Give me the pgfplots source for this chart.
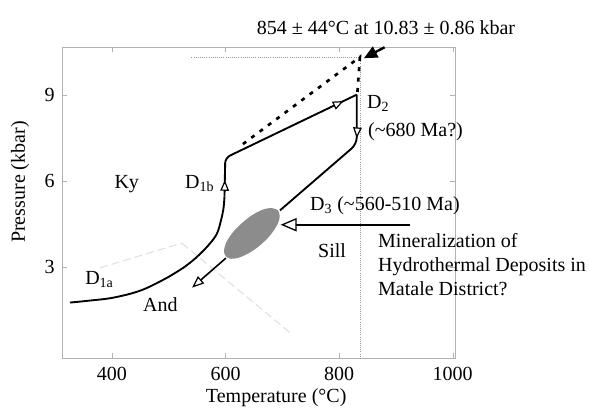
\documentclass[border=0pt]{standalone}
\usepackage{pgfplots}
\pgfplotsset{compat=1.18}
\usepackage{fontspec}
\setmainfont{Liberation Serif}
\usetikzlibrary{arrows.meta,decorations.markings}

\tikzset{
  oarr/.tip={Triangle[length=8pt,width=6.5pt,fill=white,line width=0.9pt]},
}

\begin{document}
\begin{tikzpicture}[font=\fontsize{15}{18}\selectfont]
\begin{axis}[
  scale only axis, width=294.75pt, height=233.25pt,
  xmin=312, xmax=1004, ymin=-0.17, ymax=10.66,
  clip=false,
  axis line style={black!30},
  tick style={black!30},
  xtick={400,600,800,1000}, ytick={3,6,9},
  tick align=inside,
  major tick length=4pt,
  /pgf/number format/assume math mode=true,
  /pgf/number format/1000 sep={},
  ticklabel style={font=\fontsize{15}{18}\selectfont},
  xticklabel style={yshift=-3pt},
  yticklabel style={xshift=-2pt},
]
% aluminosilicate phase boundaries (faint)
\addplot[black!12, line width=0.8pt, dash pattern=on 6pt off 3pt] coordinates {(379,2.97) (523,3.83)};
\addplot[black!12, line width=0.8pt, dash pattern=on 6pt off 3pt] coordinates {(523,3.83) (713,0.72)};
% gray reference lines at peak
\addplot[black!40, line width=0.6pt, densely dotted] coordinates {(540,10.31) (836.6,10.31)};
\addplot[black!40, line width=0.6pt, densely dotted] coordinates {(836.6,10.31) (836.6,-0.17)};
% peak dotted path
\addplot[black, line width=2pt, dash pattern=on 3pt off 4.8pt] coordinates {(630.6,7.28) (836.6,10.31) (832,9.03)};
% ellipse
\addplot[fill=black!45, draw=none, smooth, tension=0.7] coordinates {
 (692.6,4.97) (694.9,4.68) (684.2,4.25) (663.4,3.80) (638.0,3.45) (615.0,3.29)
 (600.4,3.37) (598.1,3.67) (608.8,4.10) (629.6,4.54) (654.9,4.90) (678.0,5.05) (692.6,4.97)};
% D1a prograde curve
\addplot[black, line width=1.4pt, smooth, tension=0.6] coordinates {
 (326,1.76) (361,1.83) (402,1.93) (449,2.17) (490,2.55) (520,2.90) (537,3.14)
 (555,3.45) (573,3.83) (585,4.17) (591.9,4.62) (596.3,5.03) (598.1,5.45)};
% D1b and path to D2
\addplot[black, line width=1.4pt, rounded corners=4pt, postaction={decorate},
  decoration={markings,
    mark=at position 0.09 with {\arrow{oarr}},
    mark=at position 0.92 with {\arrow{oarr}}}]
  coordinates {(598.1,5.45) (599.5,6.80) (831,9.0)};
% D2 decompression and D3 path
\addplot[black, line width=1.4pt, rounded corners=5pt, postaction={decorate},
  decoration={markings, mark=at position 0.29 with {\arrow{oarr}}}]
  coordinates {(831,9.0) (831,7.28) (695.8,4.97)};
% retrograde arrow
\addplot[black, line width=1.2pt, -{Triangle[length=9pt,width=7pt,fill=white,line width=0.9pt]}]
  coordinates {(600.7,3.31) (541,2.28)};
% mineralization arrow
\addplot[black, line width=1.8pt, -{Triangle[length=12pt,width=10pt,fill=white,line width=1pt]}]
  coordinates {(925,4.47) (697,4.47)};
% peak arrow
\addplot[black, line width=1.8pt, -{Triangle[length=10pt,width=9pt]}]
  coordinates {(880,10.65) (843.7,10.27)};

% labels
\node[anchor=base, inner sep=0] at (axis cs:882.4,11.10) {854 ± 44°C at 10.83 ± 0.86 kbar};
\node[anchor=base, inner sep=0] at (axis cs:426,5.72) {Ky};
\node[anchor=base west, inner sep=0] at (axis cs:528.5,5.72) {D\textsubscript{1b}};
\node[anchor=base west, inner sep=0] at (axis cs:849,8.52) {D\textsubscript{2}};
\node[anchor=base west, inner sep=0] at (axis cs:850.7,7.55) {(\textasciitilde680 Ma?)};
\node[anchor=base west, inner sep=0] at (axis cs:748.6,4.97) {D\textsubscript{3} (\textasciitilde560-510 Ma)};
\node[anchor=base west, inner sep=0] at (axis cs:762.7,3.34) {Sill};
\node[anchor=base west, inner sep=0] at (axis cs:868.3,3.69) {Mineralization of};
\node[anchor=base west, inner sep=0] at (axis cs:868.3,2.83) {Hydrothermal Deposits in};
\node[anchor=base west, inner sep=0] at (axis cs:868.3,2.00) {Matale District?};
\node[anchor=base west, inner sep=0] at (axis cs:352.5,2.38) {D\textsubscript{1a}};
\node[anchor=base west, inner sep=0] at (axis cs:454.6,1.45) {And};
\node[rotate=90, anchor=center] at (axis description cs:-0.107,0.566) {Pressure (kbar)};
\node[anchor=base] at (axis description cs:0.545,-0.142) {Temperature (°C)};
\end{axis}
\pgfresetboundingbox
\path ([shift={(-46.5pt,-38.25pt)}]current axis.south west) rectangle ([shift={(396pt,268.5pt)}]current axis.south west);
\end{tikzpicture}
\end{document}
